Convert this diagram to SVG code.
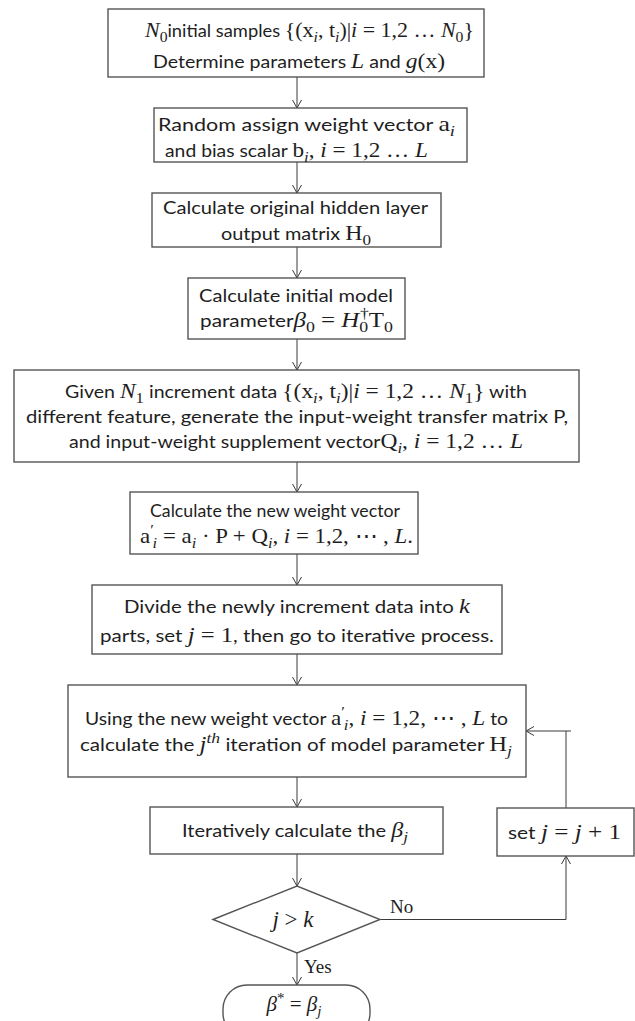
<svg xmlns="http://www.w3.org/2000/svg" width="635" height="1021" viewBox="0 0 635 1021">
<defs>
<marker id="arr" markerWidth="12" markerHeight="12" refX="9" refY="5" orient="auto" markerUnits="userSpaceOnUse">
<path d="M1,0.5 L9,5 L1,9.5" fill="none" stroke="#3a3a3a" stroke-width="1"/>
</marker>
<style>
.box{fill:#fff;stroke:#555;stroke-width:1.4}
.t{font-family:Lato,"Liberation Sans",sans-serif;font-size:17.5px;fill:#1e1e1e}
.m{font-family:"Liberation Serif","DejaVu Serif",serif;font-size:21px}
.i{font-style:italic}
.s{font-size:15px}
.lbl{font-family:"Liberation Serif","DejaVu Serif",serif;font-size:19px;fill:#1e1e1e}
.c{fill:none;stroke:#3a3a3a;stroke-width:1}
</style>
</defs>
<rect width="635" height="1021" fill="#fff"/>
<g id="connectors">
<line class="c" x1="297" y1="77" x2="297" y2="108" marker-end="url(#arr)"/>
<line class="c" x1="297" y1="162" x2="297" y2="193" marker-end="url(#arr)"/>
<line class="c" x1="297" y1="247" x2="297" y2="278" marker-end="url(#arr)"/>
<line class="c" x1="297" y1="339" x2="297" y2="370" marker-end="url(#arr)"/>
<line class="c" x1="297" y1="462" x2="297" y2="492" marker-end="url(#arr)"/>
<line class="c" x1="297" y1="554" x2="297" y2="585" marker-end="url(#arr)"/>
<line class="c" x1="297" y1="654" x2="297" y2="685" marker-end="url(#arr)"/>
<line class="c" x1="297" y1="777" x2="297" y2="807" marker-end="url(#arr)"/>
<line class="c" x1="297" y1="854" x2="297" y2="886" marker-end="url(#arr)"/>
<line class="c" x1="297" y1="953" x2="297" y2="985" marker-end="url(#arr)"/>
<polyline class="c" points="380,919.5 566,919.5 566,856" marker-end="url(#arr)"/>
<polyline class="c" points="566,808 566,731 526,731" marker-end="url(#arr)"/>
<line class="c" x1="566" y1="731" x2="571" y2="731"/>
<text class="lbl" x="390" y="913">No</text>
<text class="lbl" x="304" y="973">Yes</text>
</g>
<g id="n1">
<rect class="box" x="108" y="9" width="376" height="68"/>
<text class="t" x="145" y="37" textLength="329" lengthAdjust="spacingAndGlyphs"><tspan class="m i">N</tspan><tspan class="m s" dy="5">0</tspan><tspan dy="-5">initial samples </tspan><tspan class="m">{(x</tspan><tspan class="m i s" dy="5">i</tspan><tspan class="m" dy="-5">, t</tspan><tspan class="m i s" dy="5">i</tspan><tspan class="m" dy="-5">)|</tspan><tspan class="m i">i</tspan><tspan class="m"> = 1,2 … </tspan><tspan class="m i">N</tspan><tspan class="m s" dy="5">0</tspan><tspan class="m" dy="-5">}</tspan></text>
<text class="t" x="153" y="67.5" textLength="292" lengthAdjust="spacingAndGlyphs">Determine parameters <tspan class="m i">L</tspan> and <tspan class="m i">g</tspan><tspan class="m">(x)</tspan></text>
</g>
<g id="n2">
<rect class="box" x="154" y="108" width="313" height="54"/>
<text class="t" x="158" y="131" textLength="297" lengthAdjust="spacingAndGlyphs">Random assign weight vector <tspan class="m">a</tspan><tspan class="m i s" dy="5">i</tspan></text>
<text class="t" x="165" y="157" textLength="263" lengthAdjust="spacingAndGlyphs">and bias scalar <tspan class="m">b</tspan><tspan class="m i s" dy="5">i</tspan><tspan class="m" dy="-5">, </tspan><tspan class="m i">i</tspan><tspan class="m"> = 1,2 … </tspan><tspan class="m i">L</tspan></text>
</g>
<g id="n3">
<rect class="box" x="152" y="193" width="289" height="54"/>
<text class="t" x="163" y="214" textLength="265" lengthAdjust="spacingAndGlyphs">Calculate original hidden layer</text>
<text class="t" x="221" y="240" textLength="150" lengthAdjust="spacingAndGlyphs">output matrix <tspan class="m">H</tspan><tspan class="m s" dy="5">0</tspan></text>
</g>
<g id="n4">
<rect class="box" x="188" y="278" width="217" height="61"/>
<text class="t" x="199" y="302" textLength="194" lengthAdjust="spacingAndGlyphs">Calculate initial model</text>
<text class="t" x="200" y="327" textLength="193" lengthAdjust="spacingAndGlyphs">parameter<tspan class="m i">β</tspan><tspan class="m s" dy="5">0</tspan><tspan class="m" dy="-5"> = </tspan><tspan class="m i">H</tspan><tspan class="m s" dy="5">0</tspan><tspan class="m s" dx="-7" dy="-14">†</tspan><tspan class="m" dy="9">T</tspan><tspan class="m s" dy="5">0</tspan></text>
</g>
<g id="n5">
<rect class="box" x="14" y="370" width="565" height="92"/>
<text class="t" x="65" y="398" textLength="462" lengthAdjust="spacingAndGlyphs">Given <tspan class="m i">N</tspan><tspan class="m s" dy="5">1</tspan><tspan dy="-5"> increment data </tspan><tspan class="m">{(x</tspan><tspan class="m i s" dy="5">i</tspan><tspan class="m" dy="-5">, t</tspan><tspan class="m i s" dy="5">i</tspan><tspan class="m" dy="-5">)|</tspan><tspan class="m i">i</tspan><tspan class="m"> = 1,2 … </tspan><tspan class="m i">N</tspan><tspan class="m s" dy="5">1</tspan><tspan class="m" dy="-5">}</tspan> with</text>
<text class="t" x="26" y="423" textLength="542" lengthAdjust="spacingAndGlyphs">different feature, generate the input-weight transfer matrix P,</text>
<text class="t" x="69" y="448" textLength="454" lengthAdjust="spacingAndGlyphs">and input-weight supplement vector<tspan class="m">Q</tspan><tspan class="m i s" dy="5">i</tspan><tspan class="m" dy="-5">, </tspan><tspan class="m i">i</tspan><tspan class="m"> = 1,2 … </tspan><tspan class="m i">L</tspan></text>
</g>
<g id="n6">
<rect class="box" x="130" y="492" width="288" height="62"/>
<text class="t" x="150" y="517" textLength="250" lengthAdjust="spacingAndGlyphs" style="font-size:16.5px">Calculate the new weight vector</text>
<text class="t" x="140" y="543" textLength="273" lengthAdjust="spacingAndGlyphs"><tspan class="m">a</tspan><tspan class="m s" dy="-8">′</tspan><tspan class="m i s" dx="-1" dy="13">i</tspan><tspan class="m" dy="-5"> = a</tspan><tspan class="m i s" dy="5">i</tspan><tspan class="m" dy="-5"> · P + Q</tspan><tspan class="m i s" dy="5">i</tspan><tspan class="m" dy="-5">, </tspan><tspan class="m i">i</tspan><tspan class="m"> = 1,2, ⋯ , </tspan><tspan class="m i">L</tspan><tspan class="m">.</tspan></text>
</g>
<g id="n7">
<rect class="box" x="92" y="585" width="410" height="69"/>
<text class="t" x="124" y="613" textLength="346" lengthAdjust="spacingAndGlyphs">Divide the newly increment data into <tspan class="m i">k</tspan></text>
<text class="t" x="100" y="642" textLength="394" lengthAdjust="spacingAndGlyphs">parts, set <tspan class="m i">j</tspan><tspan class="m"> = 1</tspan>, then go to iterative process.</text>
</g>
<g id="n8">
<rect class="box" x="68" y="685" width="458" height="92"/>
<text class="t" x="85" y="724.5" textLength="423" lengthAdjust="spacingAndGlyphs">Using the new weight vector <tspan class="m">a</tspan><tspan class="m s" dy="-8">′</tspan><tspan class="m i s" dx="-1" dy="13">i</tspan><tspan class="m" dy="-5">, </tspan><tspan class="m i">i</tspan><tspan class="m"> = 1,2, ⋯ , </tspan><tspan class="m i">L</tspan> to</text>
<text class="t" x="80" y="750.5" textLength="432" lengthAdjust="spacingAndGlyphs">calculate the <tspan class="m i">j</tspan><tspan class="m i s" dy="-8">th</tspan><tspan dy="8"> iteration of model parameter </tspan><tspan class="m">H</tspan><tspan class="m i s" dy="5">j</tspan></text>
</g>
<g id="n9">
<rect class="box" x="150" y="807" width="293" height="47"/>
<text class="t" x="182" y="837" textLength="226" lengthAdjust="spacingAndGlyphs">Iteratively calculate the <tspan class="m i">β</tspan><tspan class="m i s" dy="5">j</tspan></text>
</g>
<g id="n10">
<rect class="box" x="497" y="808" width="137" height="48"/>
<text class="t" x="508" y="839" textLength="113" lengthAdjust="spacingAndGlyphs">set <tspan class="m i">j</tspan><tspan class="m"> = </tspan><tspan class="m i">j</tspan><tspan class="m"> + 1</tspan></text>
</g>
<g id="n11">
<polygon class="box" points="213,919.5 297,886 380,919.5 297,953"/>
<text class="m i" x="293" y="927" text-anchor="middle" style="font-size:23px;fill:#1e1e1e">j<tspan style="font-style:normal"> &gt; </tspan>k</text>
</g>
<g id="n12">
<rect class="box" x="223" y="985" width="147" height="52" rx="24" ry="24"/>
<text class="m" x="294" y="1011" text-anchor="middle" style="fill:#1e1e1e"><tspan class="i">β</tspan><tspan class="s" dy="-8">*</tspan><tspan dy="8"> = </tspan><tspan class="i">β</tspan><tspan class="i s" dy="5">j</tspan></text>
</g>
</svg>
